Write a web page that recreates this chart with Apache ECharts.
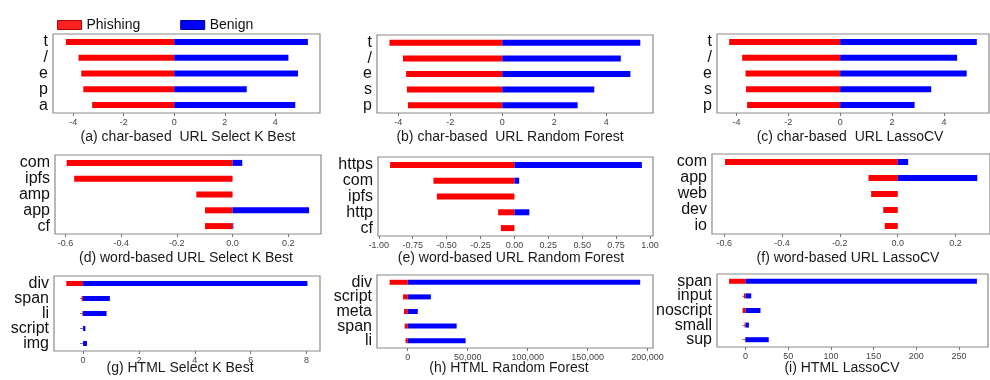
<!DOCTYPE html>
<html>
<head>
<meta charset="utf-8">
<script src="https://cdn.jsdelivr.net/npm/echarts/dist/echarts.min.js"></script>
<style>
html,body{margin:0;padding:0;background:#fff;}
#chart{width:990px;height:380px;}
</style>
</head>
<body>
<div id="chart"></div>
<script>
// ---- data ----
const catsA = ['t', '/', 'e', 'p', 'a'];
const phishA = [-4.29, -3.79, -3.68, -3.60, -3.25];
const benignA = [5.29, 4.52, 4.90, 2.87, 4.79];
const ticksA = [-4, -2, 0, 2, 4];

const catsB = ['t', '/', 'e', 's', 'p'];
const phishB = [-4.34, -3.82, -3.70, -3.67, -3.63];
const benignB = [5.31, 4.56, 4.93, 3.54, 2.90];
const ticksB = [-4, -2, 0, 2, 4];

const catsC = ['t', '/', 'e', 's', 'p'];
const phishC = [-4.28, -3.78, -3.65, -3.63, -3.59];
const benignC = [5.27, 4.51, 4.88, 3.51, 2.87];
const ticksC = [-4, -2, 0, 2, 4];

const catsD = ['com', 'ipfs', 'amp', 'app', 'cf'];
const phishD = [-0.596, -0.569, -0.130, -0.099, -0.099];
const benignD = [0.035, 0, 0, 0.275, 0.003];
const ticksD = [-0.6, -0.4, -0.2, 0, 0.2];

const catsE = ['https', 'com', 'ipfs', 'http', 'cf'];
const phishE = [-0.917, -0.597, -0.572, -0.120, -0.100];
const benignE = [0.940, 0.035, 0, 0.110, 0];
const ticksE = [-1, -0.75, -0.5, -0.25, 0, 0.25, 0.5, 0.75, 1];

const catsF = ['com', 'app', 'web', 'dev', 'io'];
const phishF = [-0.597, -0.101, -0.092, -0.050, -0.045];
const benignF = [0.036, 0.275, 0, 0, 0];
const ticksF = [-0.6, -0.4, -0.2, 0, 0.2];

const catsG = ['div', 'span', 'li', 'script', 'img'];
const phishG = [-0.60, -0.05, -0.024, -0.004, -0.004];
const benignG = [8.03, 0.96, 0.84, 0.084, 0.14];
const ticksG = [0, 2, 4, 6, 8];

const catsH = ['div', 'script', 'meta', 'span', 'li'];
const phishH = [-15100, -3900, -3100, -2500, -1700];
const benignH = [193800, 19300, 8400, 40800, 48300];
const ticksH = [0, 50000, 100000, 150000, 200000];

const catsI = ['span', 'input', 'noscript', 'small', 'sup'];
const phishI = [-19.4, -2.0, -3.5, -1.2, -0.8];
const benignI = [271, 6.6, 17.4, 3.9, 27.1];
const ticksI = [0, 50, 100, 150, 200, 250];

const titles = [
  '(a) char-based  URL Select K Best',
  '(b) char-based  URL Random Forest',
  '(c) char-based  URL LassoCV',
  '(d) word-based URL Select K Best',
  '(e) word-based URL Random Forest',
  '(f) word-based URL LassoCV',
  '(g) HTML Select K Best',
  '(h) HTML Random Forest',
  '(i) HTML LassoCV'
];

// ---- layout (pixels) ----
const panels = [
  {cats: catsA, p: phishA, b: benignA, ticks: ticksA, min: -4.80, max: 5.77, dec: 0, g: [53, 34, 267, 79], t: [188, 130.5]},
  {cats: catsB, p: phishB, b: benignB, ticks: ticksB, min: -4.82, max: 5.80, dec: 0, g: [377, 35, 276, 78], t: [510, 130.5]},
  {cats: catsC, p: phishC, b: benignC, ticks: ticksC, min: -4.75, max: 5.74, dec: 0, g: [717, 34, 272, 79], t: [850, 130.5]},
  {cats: catsD, p: phishD, b: benignD, ticks: ticksD, min: -0.638, max: 0.318, dec: 1, g: [55, 155, 266, 79], t: [186, 251]},
  {cats: catsE, p: phishE, b: benignE, ticks: ticksE, min: -1.006, max: 1.022, dec: 2, g: [378, 157, 275, 79], t: [511, 251]},
  {cats: catsF, p: phishF, b: benignF, ticks: ticksF, min: -0.642, max: 0.319, dec: 1, g: [712, 154, 282, 80], t: [848, 251]},
  {cats: catsG, p: phishG, b: benignG, ticks: ticksG, min: -1.04, max: 8.48, dec: 0, g: [54, 276, 266, 75], t: [180, 361]},
  {cats: catsH, p: phishH, b: benignH, ticks: ticksH, min: -25600, max: 204500, dec: -1, g: [377, 275, 276, 73], t: [509, 361]},
  {cats: catsI, p: phishI, b: benignI, ticks: ticksI, min: -33.5, max: 284, dec: 0, g: [717, 274, 271, 73], t: [842, 361]}
];

const FONT = '"Liberation Sans", Arial, sans-serif';
const RED = '#ff0000';
const BLUE = '#0000ff';

const option = {
  animation: false,
  backgroundColor: '#fff',
  textStyle: {fontFamily: FONT},
  legend: {
    left: 52, top: 13,
    itemWidth: 24, itemHeight: 9, itemGap: 40,
    icon: 'rect',
    textStyle: {fontSize: 14, color: '#111', fontFamily: FONT},
    data: [
      {name: 'Phishing', itemStyle: {color: '#ff2020', borderColor: '#b00000', borderWidth: 1}},
      {name: 'Benign', itemStyle: {color: BLUE, borderColor: '#000090', borderWidth: 1}}
    ]
  },
  title: [], grid: [], xAxis: [], yAxis: [], series: []
};

panels.forEach((pn, i) => {
  option.grid.push({
    left: pn.g[0], top: pn.g[1], width: pn.g[2], height: pn.g[3],
    show: true, borderColor: '#8a8a8a', borderWidth: 1.2, backgroundColor: '#fff',
    containLabel: false
  });
  option.title.push({
    text: titles[i], left: pn.t[0], top: pn.t[1], textAlign: 'center', padding: 0,
    textStyle: {fontSize: 14, fontWeight: 'normal', color: '#1a1a1a', fontFamily: FONT}
  });
  const dec = pn.dec;
  option.xAxis.push({
    type: 'value', gridIndex: i, min: pn.min, max: pn.max,
    splitLine: {show: false},
    axisLine: {show: false},
    axisTick: {show: true, length: 3, customValues: pn.ticks, lineStyle: {color: '#777'}},
    axisLabel: {
      show: true, customValues: pn.ticks, fontSize: 9, color: '#444', margin: 5,
      fontFamily: FONT,
      formatter: v => dec < 0 ? Number(v).toLocaleString('en-US') : Number(v).toFixed(dec)
    }
  });
  option.yAxis.push({
    type: 'category', gridIndex: i, data: pn.cats, inverse: true,
    axisLine: {show: false},
    axisTick: {show: true, length: 3, alignWithLabel: true, interval: 0, lineStyle: {color: '#777'}},
    axisLabel: {fontSize: 16, color: '#111', margin: 5, interval: 0, fontFamily: FONT}
  });
  const bw = i >= 6 ? 5 : 6;
  option.series.push({
    name: 'Phishing', type: 'bar', xAxisIndex: i, yAxisIndex: i, stack: 's' + i,
    data: pn.p, barWidth: bw, itemStyle: {color: RED}
  });
  option.series.push({
    name: 'Benign', type: 'bar', xAxisIndex: i, yAxisIndex: i, stack: 's' + i,
    data: pn.b, barWidth: bw, itemStyle: {color: BLUE}
  });
});

const chart = echarts.init(document.getElementById('chart'), null, {renderer: 'canvas'});
chart.setOption(option);
</script>
</body>
</html>
